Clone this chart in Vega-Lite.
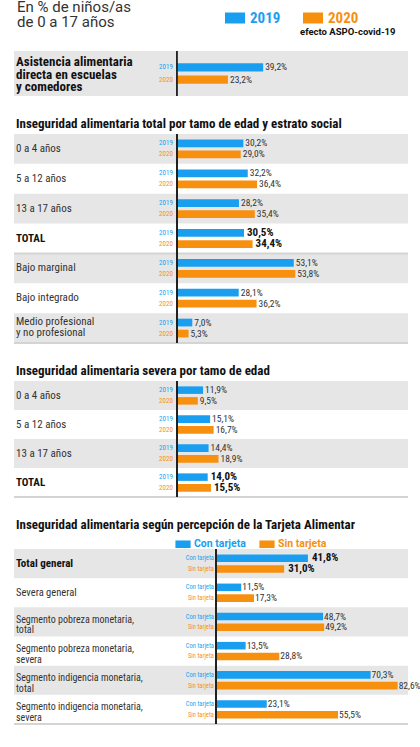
{
  "$schema": "https://vega.github.io/schema/vega-lite/v6.json",
  "padding": {"left": 13, "top": 0, "right": 0, "bottom": 0},
  "background": "#ffffff",
  "spacing": 21,
  "datasets": {
    "s1": [
      {"cat": "Asistencia alimentaria\ndirecta en escuelas\ny comedores", "serie": "2019", "value": 39.2},
      {"cat": "Asistencia alimentaria\ndirecta en escuelas\ny comedores", "serie": "2020", "value": 23.2}
    ],
    "s2": [
      {"cat": "0 a 4 años", "serie": "2019", "value": 30.2},
      {"cat": "0 a 4 años", "serie": "2020", "value": 29.0},
      {"cat": "5 a 12 años", "serie": "2019", "value": 32.2},
      {"cat": "5 a 12 años", "serie": "2020", "value": 36.4},
      {"cat": "13 a 17 años", "serie": "2019", "value": 28.2},
      {"cat": "13 a 17 años", "serie": "2020", "value": 35.4},
      {"cat": "TOTAL", "serie": "2019", "value": 30.5},
      {"cat": "TOTAL", "serie": "2020", "value": 34.4},
      {"cat": "Bajo marginal", "serie": "2019", "value": 53.1},
      {"cat": "Bajo marginal", "serie": "2020", "value": 53.8},
      {"cat": "Bajo integrado", "serie": "2019", "value": 28.1},
      {"cat": "Bajo integrado", "serie": "2020", "value": 36.2},
      {"cat": "Medio profesional\ny no profesional", "serie": "2019", "value": 7.0},
      {"cat": "Medio profesional\ny no profesional", "serie": "2020", "value": 5.3}
    ],
    "s3": [
      {"cat": "0 a 4 años", "serie": "2019", "value": 11.9},
      {"cat": "0 a 4 años", "serie": "2020", "value": 9.5},
      {"cat": "5 a 12 años", "serie": "2019", "value": 15.1},
      {"cat": "5 a 12 años", "serie": "2020", "value": 16.7},
      {"cat": "13 a 17 años", "serie": "2019", "value": 14.4},
      {"cat": "13 a 17 años", "serie": "2020", "value": 18.9},
      {"cat": "TOTAL", "serie": "2019", "value": 14.0},
      {"cat": "TOTAL", "serie": "2020", "value": 15.5}
    ],
    "s4": [
      {"cat": "Total general", "serie": "Con tarjeta", "value": 41.8},
      {"cat": "Total general", "serie": "Sin tarjeta", "value": 31.0},
      {"cat": "Severa general", "serie": "Con tarjeta", "value": 11.5},
      {"cat": "Severa general", "serie": "Sin tarjeta", "value": 17.3},
      {"cat": "Segmento pobreza monetaria,\n total", "serie": "Con tarjeta", "value": 48.7},
      {"cat": "Segmento pobreza monetaria,\n total", "serie": "Sin tarjeta", "value": 49.2},
      {"cat": "Segmento pobreza monetaria,\n severa", "serie": "Con tarjeta", "value": 13.5},
      {"cat": "Segmento pobreza monetaria,\n severa", "serie": "Sin tarjeta", "value": 28.8},
      {"cat": "Segmento indigencia monetaria,\n total", "serie": "Con tarjeta", "value": 70.3},
      {"cat": "Segmento indigencia monetaria,\n total", "serie": "Sin tarjeta", "value": 82.6},
      {"cat": "Segmento indigencia monetaria,\n severa", "serie": "Con tarjeta", "value": 23.1},
      {"cat": "Segmento indigencia monetaria,\n severa", "serie": "Sin tarjeta", "value": 55.5}
    ]
  },
  "resolve": {"scale": {"x": "independent", "y": "independent", "yOffset": "independent"}},
  "vconcat": [
    {
      "width": 394, "height": 45,
      "title": {"text": ["En % de niños/as", "de 0 a 17 años"], "anchor": "start", "frame": "group", "dx": 3, "offset": 20, "fontSize": 15, "fontWeight": "normal", "color": "#333333", "lineHeight": 15, "font": "Roboto"},
      "data": {"name": "s1"},
      "transform": [{"calculate": "replace(format(datum.value,'.1f'),'.',',') + '%'", "as": "lbl"}],
      "layer": [
        {"transform": [{"filter": "datum.serie == '2019'"}], "mark": {"type": "rect", "color": "#e6e6e6"},
         "encoding": {"y": {"field": "cat", "type": "nominal", "sort": null, "axis": null, "scale": {"paddingInner": 0, "paddingOuter": 0}},
                      "x": {"datum": -74, "type": "quantitative", "scale": {"domain": [-74, 105], "nice": false, "zero": false}, "axis": null}, "x2": {"datum": 105}}},
        {"mark": {"type": "bar"},
         "encoding": {"y": {"field": "cat", "type": "nominal", "sort": null},
                      "yOffset": {"field": "serie", "type": "nominal", "scale": {"paddingInner": 0.33, "paddingOuter": 1.04}},
                      "x": {"field": "value", "type": "quantitative"},
                      "color": {"field": "serie", "type": "nominal", "scale": {"domain": ["2019", "2020"], "range": ["#1a9ff0", "#f7900f"]},
                                "legend": {"orient": "none", "legendX": 211, "legendY": -43, "direction": "horizontal", "title": "efecto ASPO-covid-19",
                                           "titleOrient": "bottom", "titleAnchor": "start", "titleFontSize": 9.5, "titleFontWeight": "bold", "titleColor": "#111111", "titleFont": "Roboto", "titlePadding": 1,
                                           "symbolType": "M-1,-0.55H1V0.55H-1Z", "symbolSize": 400, "symbolStrokeWidth": 0, "symbolOpacity": 1,
                                           "labelFontSize": 15, "labelFontWeight": "bold", "labelOffset": 5, "columnPadding": 22,
                                           "encode": {"labels": {"update": {"fill": {"signal": "datum.value == '2019' ? '#1a9ff0' : '#f7900f'"}}},
                                                      "title": {"update": {"dx": {"value": 75}}}}}}}},
        {"mark": {"type": "rule", "color": "#222222", "strokeWidth": 1.5}, "encoding": {"x": {"datum": 0, "type": "quantitative"}}},
        {"mark": {"type": "text", "align": "right", "baseline": "middle", "dx": -4, "fontSize": 7},
         "encoding": {"y": {"field": "cat", "type": "nominal", "sort": null}, "yOffset": {"field": "serie", "type": "nominal"},
                      "x": {"datum": 0, "type": "quantitative"}, "text": {"field": "serie"},
                      "color": {"field": "serie", "type": "nominal"}}},
        {"mark": {"type": "text", "align": "left", "baseline": "middle", "dx": 2, "fontSize": 9.5, "color": "#333333"},
         "encoding": {"y": {"field": "cat", "type": "nominal", "sort": null}, "yOffset": {"field": "serie", "type": "nominal"},
                      "x": {"field": "value", "type": "quantitative"}, "text": {"field": "lbl"}}},
        {"transform": [{"filter": "datum.serie == '2019'"}],
         "mark": {"type": "text", "align": "left", "baseline": "middle", "dx": 2, "dy": -11.5, "fontSize": 13, "fontWeight": "bold", "color": "#111111", "lineBreak": "\n", "lineHeight": 12.5},
         "encoding": {"y": {"field": "cat", "type": "nominal", "sort": null}, "x": {"datum": -74, "type": "quantitative"}, "text": {"field": "cat"}}}
      ]
    },
    {
      "width": 394, "height": 209,
      "title": {"text": "Inseguridad alimentaria total por tamo de edad y estrato social", "anchor": "start", "frame": "group", "dx": 2, "offset": 2, "fontSize": 13, "fontWeight": "bold", "color": "#111111"},
      "data": {"name": "s2"},
      "transform": [{"calculate": "replace(format(datum.value,'.1f'),'.',',') + '%'", "as": "lbl"}],
      "layer": [
        {"transform": [{"filter": {"field": "cat", "oneOf": ["0 a 4 años", "13 a 17 años", "Bajo marginal", "Medio profesional\ny no profesional"]}}, {"filter": "datum.serie == '2019'"}],
         "mark": {"type": "rect", "color": "#e6e6e6"},
         "encoding": {"y": {"field": "cat", "type": "nominal", "axis": null, "scale": {"domain": ["0 a 4 años", "5 a 12 años", "13 a 17 años", "TOTAL", "Bajo marginal", "Bajo integrado", "Medio profesional\ny no profesional"], "paddingInner": 0, "paddingOuter": 0}},
                      "x": {"datum": -74, "type": "quantitative", "scale": {"domain": [-74, 105], "nice": false, "zero": false}, "axis": null}, "x2": {"datum": 105}}},
        {"transform": [{"filter": {"field": "cat", "oneOf": ["TOTAL", "Medio profesional\ny no profesional"]}}, {"filter": "datum.serie == '2019'"}],
         "mark": {"type": "rule", "color": "#d4d4d4", "strokeWidth": 2},
         "encoding": {"y": {"field": "cat", "type": "nominal", "bandPosition": 1}, "x": {"datum": -74, "type": "quantitative"}, "x2": {"datum": 105}}},
        {"mark": {"type": "bar"},
         "encoding": {"y": {"field": "cat", "type": "nominal"},
                      "yOffset": {"field": "serie", "type": "nominal", "scale": {"paddingInner": 0.3, "paddingOuter": 0.5}},
                      "x": {"field": "value", "type": "quantitative"},
                      "color": {"field": "serie", "type": "nominal"}}},
        {"mark": {"type": "rule", "color": "#222222", "strokeWidth": 1.5}, "encoding": {"x": {"datum": 0, "type": "quantitative"}}},
        {"mark": {"type": "text", "align": "right", "baseline": "middle", "dx": -4, "fontSize": 7},
         "encoding": {"y": {"field": "cat", "type": "nominal"}, "yOffset": {"field": "serie", "type": "nominal"},
                      "x": {"datum": 0, "type": "quantitative"}, "text": {"field": "serie"},
                      "color": {"field": "serie", "type": "nominal"}}},
        {"transform": [{"filter": "datum.cat != 'TOTAL'"}],
         "mark": {"type": "text", "align": "left", "baseline": "middle", "dx": 2, "fontSize": 9.5, "color": "#333333"},
         "encoding": {"y": {"field": "cat", "type": "nominal"}, "yOffset": {"field": "serie", "type": "nominal"},
                      "x": {"field": "value", "type": "quantitative"}, "text": {"field": "lbl"}}},
        {"transform": [{"filter": "datum.cat == 'TOTAL'"}],
         "mark": {"type": "text", "align": "left", "baseline": "middle", "dx": 3, "fontSize": 11, "fontWeight": "bold", "color": "#111111"},
         "encoding": {"y": {"field": "cat", "type": "nominal"}, "yOffset": {"field": "serie", "type": "nominal"},
                      "x": {"field": "value", "type": "quantitative"}, "text": {"field": "lbl"}}},
        {"transform": [{"filter": "datum.serie == '2019'"}, {"filter": {"field": "cat", "oneOf": ["0 a 4 años", "5 a 12 años", "13 a 17 años", "Bajo marginal", "Bajo integrado"]}}],
         "mark": {"type": "text", "align": "left", "baseline": "middle", "dx": 2, "fontSize": 11, "color": "#333333"},
         "encoding": {"y": {"field": "cat", "type": "nominal"}, "x": {"datum": -74, "type": "quantitative"}, "text": {"field": "cat"}}},
        {"transform": [{"filter": "datum.serie == '2019'"}, {"filter": {"field": "cat", "oneOf": ["Medio profesional\ny no profesional"]}}],
         "mark": {"type": "text", "align": "left", "baseline": "middle", "dx": 2, "dy": -6, "fontSize": 11, "color": "#333333", "lineBreak": "\n", "lineHeight": 10.5},
         "encoding": {"y": {"field": "cat", "type": "nominal"}, "x": {"datum": -74, "type": "quantitative"}, "text": {"field": "cat"}}},
        {"transform": [{"filter": "datum.serie == '2019' && datum.cat == 'TOTAL'"}],
         "mark": {"type": "text", "align": "left", "baseline": "middle", "dx": 2, "fontSize": 11, "fontWeight": "bold", "color": "#111111"},
         "encoding": {"y": {"field": "cat", "type": "nominal"}, "x": {"datum": -74, "type": "quantitative"}, "text": {"field": "cat"}}}
      ]
    },
    {
      "width": 394, "height": 116,
      "title": {"text": "Inseguridad alimentaria severa por tamo de edad", "anchor": "start", "frame": "group", "dx": 2, "offset": 2, "fontSize": 13, "fontWeight": "bold", "color": "#111111"},
      "data": {"name": "s3"},
      "transform": [{"calculate": "replace(format(datum.value,'.1f'),'.',',') + '%'", "as": "lbl"}],
      "layer": [
        {"transform": [{"filter": {"field": "cat", "oneOf": ["0 a 4 años", "13 a 17 años"]}}, {"filter": "datum.serie == '2019'"}],
         "mark": {"type": "rect", "color": "#e6e6e6"},
         "encoding": {"y": {"field": "cat", "type": "nominal", "axis": null, "scale": {"domain": ["0 a 4 años", "5 a 12 años", "13 a 17 años", "TOTAL"], "paddingInner": 0, "paddingOuter": 0}},
                      "x": {"datum": -74, "type": "quantitative", "scale": {"domain": [-74, 105], "nice": false, "zero": false}, "axis": null}, "x2": {"datum": 105}}},
        {"transform": [{"filter": {"field": "cat", "oneOf": ["TOTAL"]}}, {"filter": "datum.serie == '2019'"}],
         "mark": {"type": "rule", "color": "#d4d4d4", "strokeWidth": 2},
         "encoding": {"y": {"field": "cat", "type": "nominal", "bandPosition": 1}, "x": {"datum": -74, "type": "quantitative"}, "x2": {"datum": 105}}},
        {"mark": {"type": "bar"},
         "encoding": {"y": {"field": "cat", "type": "nominal"},
                      "yOffset": {"field": "serie", "type": "nominal", "scale": {"paddingInner": 0.3, "paddingOuter": 0.5}},
                      "x": {"field": "value", "type": "quantitative"},
                      "color": {"field": "serie", "type": "nominal"}}},
        {"mark": {"type": "rule", "color": "#222222", "strokeWidth": 1.5}, "encoding": {"x": {"datum": 0, "type": "quantitative"}}},
        {"mark": {"type": "text", "align": "right", "baseline": "middle", "dx": -4, "fontSize": 7},
         "encoding": {"y": {"field": "cat", "type": "nominal"}, "yOffset": {"field": "serie", "type": "nominal"},
                      "x": {"datum": 0, "type": "quantitative"}, "text": {"field": "serie"},
                      "color": {"field": "serie", "type": "nominal"}}},
        {"transform": [{"filter": "datum.cat != 'TOTAL'"}],
         "mark": {"type": "text", "align": "left", "baseline": "middle", "dx": 2, "fontSize": 9.5, "color": "#333333"},
         "encoding": {"y": {"field": "cat", "type": "nominal"}, "yOffset": {"field": "serie", "type": "nominal"},
                      "x": {"field": "value", "type": "quantitative"}, "text": {"field": "lbl"}}},
        {"transform": [{"filter": "datum.cat == 'TOTAL'"}],
         "mark": {"type": "text", "align": "left", "baseline": "middle", "dx": 3, "fontSize": 11, "fontWeight": "bold", "color": "#111111"},
         "encoding": {"y": {"field": "cat", "type": "nominal"}, "yOffset": {"field": "serie", "type": "nominal"},
                      "x": {"field": "value", "type": "quantitative"}, "text": {"field": "lbl"}}},
        {"transform": [{"filter": "datum.serie == '2019' && datum.cat != 'TOTAL'"}],
         "mark": {"type": "text", "align": "left", "baseline": "middle", "dx": 2, "fontSize": 11, "color": "#333333"},
         "encoding": {"y": {"field": "cat", "type": "nominal"}, "x": {"datum": -74, "type": "quantitative"}, "text": {"field": "cat"}}},
        {"transform": [{"filter": "datum.serie == '2019' && datum.cat == 'TOTAL'"}],
         "mark": {"type": "text", "align": "left", "baseline": "middle", "dx": 2, "fontSize": 11, "fontWeight": "bold", "color": "#111111"},
         "encoding": {"y": {"field": "cat", "type": "nominal"}, "x": {"datum": -74, "type": "quantitative"}, "text": {"field": "cat"}}}
      ]
    },
    {
      "width": 394, "height": 175,
      "title": {"text": "Inseguridad alimentaria según percepción de la Tarjeta Alimentar", "anchor": "start", "frame": "group", "dx": 2, "dy": 3, "offset": 19, "fontSize": 13, "fontWeight": "bold", "color": "#111111"},
      "data": {"name": "s4"},
      "transform": [{"calculate": "replace(format(datum.value,'.1f'),'.',',') + '%'", "as": "lbl"}],
      "layer": [
        {"transform": [{"filter": {"field": "cat", "oneOf": ["Total general", "Segmento pobreza monetaria,\n total", "Segmento indigencia monetaria,\n total"]}}, {"filter": "datum.serie == 'Con tarjeta'"}],
         "mark": {"type": "rect", "color": "#e6e6e6"},
         "encoding": {"y": {"field": "cat", "type": "nominal", "axis": null, "scale": {"domain": ["Total general", "Severa general", "Segmento pobreza monetaria,\n total", "Segmento pobreza monetaria,\n severa", "Segmento indigencia monetaria,\n total", "Segmento indigencia monetaria,\n severa"], "paddingInner": 0, "paddingOuter": 0}},
                      "x": {"datum": -91.8, "type": "quantitative", "scale": {"domain": [-91.8, 87.3], "nice": false, "zero": false}, "axis": null}, "x2": {"datum": 87.3}}},
        {"transform": [{"filter": {"field": "cat", "oneOf": ["Segmento indigencia monetaria,\n severa"]}}, {"filter": "datum.serie == 'Con tarjeta'"}],
         "mark": {"type": "rule", "color": "#d4d4d4", "strokeWidth": 2},
         "encoding": {"y": {"field": "cat", "type": "nominal", "bandPosition": 1}, "x": {"datum": -91.8, "type": "quantitative"}, "x2": {"datum": 87.3}}},
        {"mark": {"type": "bar"},
         "encoding": {"y": {"field": "cat", "type": "nominal"},
                      "yOffset": {"field": "serie", "type": "nominal", "scale": {"paddingInner": 0.3, "paddingOuter": 0.5}},
                      "x": {"field": "value", "type": "quantitative"},
                      "fill": {"field": "serie", "type": "nominal", "scale": {"domain": ["Con tarjeta", "Sin tarjeta"], "range": ["#1a9ff0", "#f7900f"]},
                               "legend": {"orient": "none", "legendX": 161, "legendY": 485, "direction": "horizontal", "title": null,
                                          "symbolType": "M-1,-0.5H1V0.5H-1Z", "symbolSize": 230, "symbolStrokeWidth": 0, "symbolOpacity": 1,
                                          "labelFontSize": 10.5, "labelFontWeight": "bold", "labelFont": "Roboto", "labelOffset": 3, "columnPadding": 13,
                                          "encode": {"labels": {"update": {"fill": {"signal": "datum.value == 'Con tarjeta' ? '#1a9ff0' : '#f7900f'"}}}}}}}},
        {"mark": {"type": "rule", "color": "#222222", "strokeWidth": 1.5}, "encoding": {"x": {"datum": 0, "type": "quantitative"}}},
        {"mark": {"type": "text", "align": "right", "baseline": "middle", "dx": -2, "fontSize": 6.5},
         "encoding": {"y": {"field": "cat", "type": "nominal"}, "yOffset": {"field": "serie", "type": "nominal"},
                      "x": {"datum": 0, "type": "quantitative"}, "text": {"field": "serie"},
                      "fill": {"field": "serie", "type": "nominal"}}},
        {"transform": [{"filter": "datum.cat != 'Total general'"}],
         "mark": {"type": "text", "align": "left", "baseline": "middle", "dx": 1, "fontSize": 9.5, "color": "#333333"},
         "encoding": {"y": {"field": "cat", "type": "nominal"}, "yOffset": {"field": "serie", "type": "nominal"},
                      "x": {"field": "value", "type": "quantitative"}, "text": {"field": "lbl"}}},
        {"transform": [{"filter": "datum.cat == 'Total general'"}],
         "mark": {"type": "text", "align": "left", "baseline": "middle", "dx": 4, "fontSize": 11, "fontWeight": "bold", "color": "#111111"},
         "encoding": {"y": {"field": "cat", "type": "nominal"}, "yOffset": {"field": "serie", "type": "nominal"},
                      "x": {"field": "value", "type": "quantitative"}, "text": {"field": "lbl"}}},
        {"transform": [{"filter": "datum.serie == 'Con tarjeta'"}, {"filter": {"field": "cat", "oneOf": ["Severa general"]}}],
         "mark": {"type": "text", "align": "left", "baseline": "middle", "dx": 2, "fontSize": 10.5, "color": "#333333"},
         "encoding": {"y": {"field": "cat", "type": "nominal"}, "x": {"datum": -91.8, "type": "quantitative"}, "text": {"field": "cat"}}},
        {"transform": [{"filter": "datum.serie == 'Con tarjeta'"}, {"filter": {"field": "cat", "oneOf": ["Segmento pobreza monetaria,\n total", "Segmento pobreza monetaria,\n severa", "Segmento indigencia monetaria,\n total", "Segmento indigencia monetaria,\n severa"]}}],
         "mark": {"type": "text", "align": "left", "baseline": "middle", "dx": 2, "dy": -2, "fontSize": 10, "color": "#333333", "lineBreak": "\n", "lineHeight": 10.5},
         "encoding": {"y": {"field": "cat", "type": "nominal"}, "x": {"datum": -91.8, "type": "quantitative"}, "text": {"field": "cat"}}},
        {"transform": [{"filter": "datum.serie == 'Con tarjeta' && datum.cat == 'Total general'"}],
         "mark": {"type": "text", "align": "left", "baseline": "middle", "dx": 2, "fontSize": 11, "fontWeight": "bold", "color": "#111111"},
         "encoding": {"y": {"field": "cat", "type": "nominal"}, "x": {"datum": -91.8, "type": "quantitative"}, "text": {"field": "cat"}}}
      ]
    }
  ],
  "config": {
    "view": {"stroke": null},
    "font": "'Roboto Condensed', 'Liberation Sans Narrow', 'DejaVu Sans Condensed', Roboto",
    "title": {"font": "'Roboto Condensed', 'Liberation Sans Narrow', 'DejaVu Sans Condensed', Roboto"}
  }
}
